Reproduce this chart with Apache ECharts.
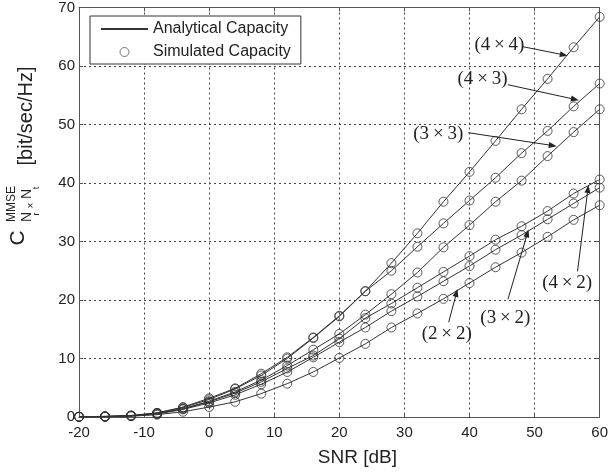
<!DOCTYPE html>
<html>
<head>
<meta charset="utf-8">
<script src="https://cdn.jsdelivr.net/npm/echarts@6/dist/echarts.min.js"></script>
<style>
  html, body { margin: 0; padding: 0; background: #fff; }
  #chart { width: 611px; height: 472px; }
</style>
</head>
<body>
<div id="chart"></div>
<script>
// SNR in dB
const snr = [-20, -16, -12, -8, -4, 0, 4, 8, 12, 16, 20, 24, 28, 32, 36, 40, 44, 48, 52, 56, 60];

// capacity [bit/sec/Hz]
const cap4x4 = [0.04, 0.1, 0.25, 0.7, 1.7, 3.2, 4.9, 7.4, 10.2, 13.6, 17.3, 21.5, 26.3, 31.4, 36.8, 41.9, 47.2, 52.6, 57.8, 63.2, 68.4];
const cap4x3 = [0.04, 0.1, 0.24, 0.7, 1.6, 3.0, 4.8, 7.1, 10.0, 13.5, 17.2, 21.5, 25.0, 29.1, 33.1, 37.0, 40.9, 45.1, 48.9, 53.1, 57.0];
const cap3x3 = [0.03, 0.08, 0.2, 0.6, 1.4, 2.7, 4.3, 6.3, 8.8, 11.5, 14.2, 17.5, 21.0, 24.7, 29.0, 32.8, 36.8, 40.4, 44.6, 48.7, 52.6];
const cap4x2 = [0.03, 0.08, 0.2, 0.6, 1.4, 2.6, 4.1, 6.0, 8.3, 10.5, 13.4, 16.9, 19.4, 22.1, 24.8, 27.5, 30.3, 32.6, 35.2, 38.2, 40.6];
const cap3x2 = [0.03, 0.07, 0.18, 0.5, 1.3, 2.4, 3.8, 5.6, 7.7, 10.2, 12.8, 15.3, 18.1, 20.6, 23.2, 25.8, 28.6, 31.1, 33.8, 36.5, 39.2];
const cap2x2 = [0.02, 0.05, 0.13, 0.4, 0.9, 1.7, 2.6, 4.0, 5.7, 7.7, 10.1, 12.5, 15.3, 17.7, 20.2, 22.9, 25.6, 28.1, 30.8, 33.7, 36.2];

const curves = [cap4x4, cap4x3, cap3x3, cap4x2, cap3x2, cap2x2];

// annotation texts, where they sit, and their arrows (data coords)
const noteTexts = ['(4\u2009×\u20094)', '(4\u2009×\u20093)', '(3\u2009×\u20093)', '(4\u2009×\u20092)', '(3\u2009×\u20092)', '(2\u2009×\u20092)'];
const notePos = [[44.6, 63.6], [42.0, 57.7], [35.2, 48.4], [55.0, 22.9], [45.5, 17.0], [36.5, 14.2]];
const arrowFrom = [[48.2, 63.3], [45.9, 56.8], [39.8, 48.6], [56.6, 24.9], [45.9, 20.1], [36.8, 16.2]];
const arrowTo = [[54.5, 61.9], [56.2, 54.3], [52.8, 46.4], [58.2, 39.0], [48.9, 31.4], [38.0, 21.2]];

const ink = '#333';
const sans = '"Liberation Sans", Arial, sans-serif';
const serif = '"Liberation Serif", "Times New Roman", serif';

const chart = echarts.init(document.getElementById('chart'));

const series = [];
curves.forEach(function (ys) {
  const pts = snr.map(function (x, i) { return [x, ys[i]]; });
  series.push({
    name: 'Analytical Capacity',
    type: 'line',
    data: pts,
    symbol: 'none',
    lineStyle: { color: ink, width: 1 },
    itemStyle: { color: ink },
    silent: true,
    z: 2
  });
  series.push({
    name: 'Simulated Capacity',
    type: 'scatter',
    data: pts,
    symbol: 'circle',
    symbolSize: 9,
    itemStyle: { color: 'rgba(0,0,0,0)', borderColor: ink, borderWidth: 1 },
    silent: true,
    z: 3
  });
});

// annotations
series.push({
  name: 'notes',
  type: 'line',
  data: [],
  silent: true,
  markPoint: {
    symbol: 'circle',
    symbolSize: 0,
    silent: true,
    label: {
      show: true,
      position: 'inside',
      formatter: '{b}',
      fontFamily: serif,
      fontSize: 19,
      color: '#222'
    },
    data: noteTexts.map(function (t, i) { return { name: t, coord: notePos[i] }; })
  },
  markLine: {
    silent: true,
    symbol: ['none', 'triangle'],
    symbolSize: 7,
    label: { show: false },
    lineStyle: { color: '#222', width: 1, type: 'solid' },
    data: arrowFrom.map(function (p, i) {
      return [
        { coord: p, symbol: 'none' },
        { coord: arrowTo[i], symbol: 'triangle', symbolSize: [6, 8] }
      ];
    })
  }
});

const option = {
  animation: false,
  backgroundColor: '#fff',
  grid: { left: 79, right: 7, top: 7, bottom: 52 },
  legend: {
    data: [
      { name: 'Analytical Capacity', itemStyle: { opacity: 0 } },
      { name: 'Simulated Capacity', itemStyle: { color: 'rgba(0,0,0,0)', borderColor: '#555', borderWidth: 1 } }
    ],
    orient: 'vertical',
    left: 90,
    top: 16,
    padding: [4, 10, 3, 10],
    itemGap: 5,
    itemWidth: 47,
    itemHeight: 9,
    backgroundColor: '#fff',
    borderColor: ink,
    borderWidth: 1,
    borderRadius: 0,
    selectedMode: false,
    textStyle: { fontFamily: sans, fontSize: 16, color: '#222', lineHeight: 18 }
  },
  xAxis: [{
    type: 'value',
    min: -20, max: 60, interval: 10,
    name: 'SNR [dB]',
    nameLocation: 'middle',
    nameGap: 31,
    nameTextStyle: { fontFamily: sans, fontSize: 19, color: '#222', padding: [0, 0, 0, 36] },
    axisLine: { show: true, onZero: false, lineStyle: { color: '#555' } },
    axisTick: { show: true, inside: true, length: 4, lineStyle: { color: '#555' } },
    axisLabel: { fontFamily: sans, fontSize: 15, color: '#222', margin: 8 },
    splitLine: { show: true, lineStyle: { color: '#444', type: [2, 3], width: 1 } }
  }, {
    type: 'value',
    position: 'top',
    min: -20, max: 60, interval: 10,
    axisLine: { show: true, onZero: false, lineStyle: { color: '#555' } },
    axisTick: { show: true, inside: true, length: 4, lineStyle: { color: '#555' } },
    axisLabel: { show: false },
    splitLine: { show: false }
  }],
  yAxis: [{
    type: 'value',
    min: 0, max: 70, interval: 10,
    axisLine: { show: true, onZero: false, lineStyle: { color: '#555' } },
    axisTick: { show: true, inside: true, length: 4, lineStyle: { color: '#555' } },
    axisLabel: { fontFamily: sans, fontSize: 15, color: '#222', margin: 4 },
    splitLine: { show: true, lineStyle: { color: '#444', type: [2, 3], width: 1 } }
  }, {
    type: 'value',
    position: 'right',
    min: 0, max: 70, interval: 10,
    axisLine: { show: true, onZero: false, lineStyle: { color: '#555' } },
    axisTick: { show: true, inside: true, length: 4, lineStyle: { color: '#555' } },
    axisLabel: { show: false },
    splitLine: { show: false }
  }],
  // rotated y-axis title  C^MMSE_{Nr x Nt} [bit/sec/Hz]
  graphic: [
    { type: 'text', x: 18, y: 238, rotation: Math.PI / 2, style: { text: 'C', font: '21px ' + sans, fill: '#222', align: 'center', verticalAlign: 'middle' } },
    { type: 'text', x: 12, y: 204, rotation: Math.PI / 2, style: { text: 'MMSE', font: '12px ' + sans, fill: '#222', align: 'center', verticalAlign: 'middle' } },
    { type: 'text', x: 27, y: 217, rotation: Math.PI / 2, style: { text: 'N', font: '14px ' + sans, fill: '#222', align: 'center', verticalAlign: 'middle' } },
    { type: 'text', x: 37, y: 214, rotation: Math.PI / 2, style: { text: 'r', font: '9px ' + sans, fill: '#222', align: 'center', verticalAlign: 'middle' } },
    { type: 'text', x: 31, y: 205.5, rotation: Math.PI / 2, style: { text: '×', font: '10px ' + sans, fill: '#222', align: 'center', verticalAlign: 'middle' } },
    { type: 'text', x: 27, y: 194, rotation: Math.PI / 2, style: { text: 'N', font: '14px ' + sans, fill: '#222', align: 'center', verticalAlign: 'middle' } },
    { type: 'text', x: 37, y: 188, rotation: Math.PI / 2, style: { text: 't', font: '9px ' + sans, fill: '#222', align: 'center', verticalAlign: 'middle' } },
    { type: 'text', x: 26, y: 116, rotation: Math.PI / 2, style: { text: '[bit/sec/Hz]', font: '20px ' + sans, fill: '#222', align: 'center', verticalAlign: 'middle' } }
  ],
  series: series
};

chart.setOption(option);
</script>
</body>
</html>
